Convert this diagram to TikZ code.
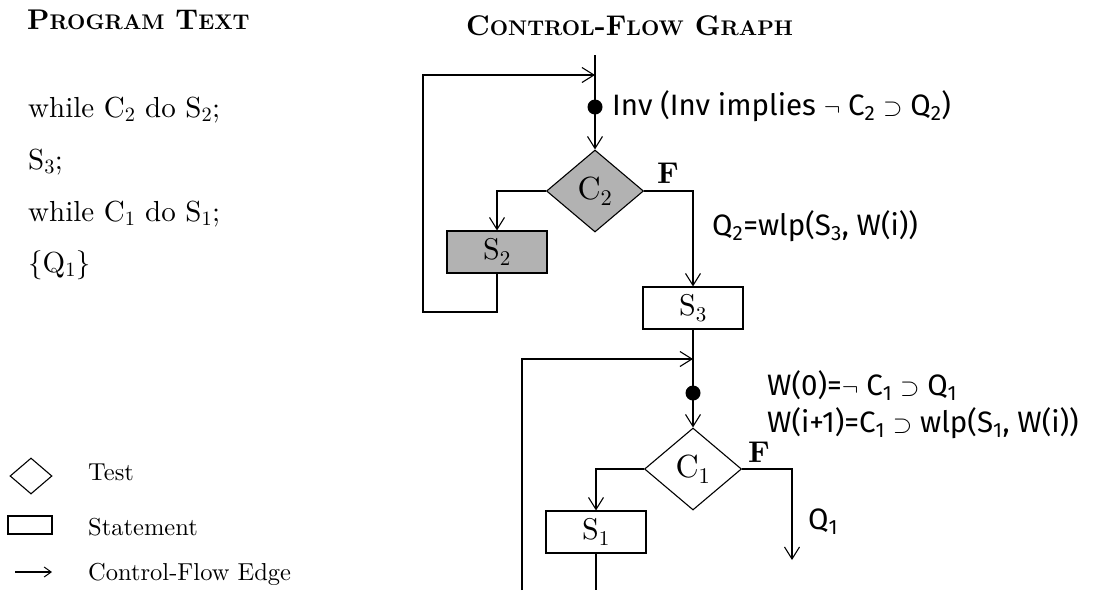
\documentclass[tikz,border=0pt]{standalone}
\usepackage{fontspec}
\setmainfont{lmroman10-regular}[Extension=.otf,BoldFont=lmroman10-bold,ItalicFont=lmroman10-italic]
\setsansfont{Fira Sans}
\usetikzlibrary{shapes.geometric,arrows.meta}
\newcommand\myfsc[1]{{\fontsize{21.2}{23}\selectfont #1}}
\tikzset{
  edge/.style={line width=1.1pt},
  arr/.style={edge,-{Straight Barb[length=12pt,width=15pt,line width=1.1pt]}},
  stmt/.style={draw,line width=1.1pt,minimum width=100pt,minimum height=42pt,inner sep=0pt,font=\fontsize{30}{32}\selectfont},
  test/.style={draw,diamond,line width=1.1pt,minimum width=97pt,minimum height=82pt,inner sep=0pt,font=\fontsize{32}{34}\selectfont},
  shaded/.style={fill=gray!60},
  lbl/.style={font=\sffamily\fontsize{29.5}{32}\selectfont,anchor=base west,inner sep=0pt},
  prog/.style={font=\fontsize{29}{32}\selectfont,anchor=base west,inner sep=0pt},
  legtxt/.style={font=\fontsize{24.5}{27}\selectfont,anchor=base west,inner sep=0pt},
  head/.style={font=\bfseries\fontsize{28.5}{31}\selectfont,anchor=base west,inner sep=0pt},
  flabel/.style={font=\bfseries\fontsize{30}{32}\selectfont,inner sep=0pt},
  dotn/.style={circle,fill,inner sep=0pt,minimum size=15pt},
}
\begin{document}
\begin{tikzpicture}[x=1pt,y=-1pt]
\useasboundingbox (0,0) rectangle (1100,590);
% headings
\node[head] (h1) at (27,29) {P\myfsc{ROGRAM} T\myfsc{EXT}};
\node[head] (h2) at (466,35) {C\myfsc{ONTROL}-F\myfsc{LOW} G\myfsc{RAPH}};
% program text
\node[prog] (p1) at (28,117) {while C\textsubscript{2} do S\textsubscript{2};};
\node[prog] (p2) at (28,169) {S\textsubscript{3};};
\node[prog] (p3) at (28,221) {while C\textsubscript{1} do S\textsubscript{1};};
\node[prog] (p4) at (28,272) {\{Q\textsubscript{1}\}};
% legend
\node[draw,diamond,line width=1.1pt,minimum width=42pt,minimum height=36pt,inner sep=0pt] (ld) at (31,476) {};
\node[legtxt] (lt1) at (88,480) {Test};
\node[draw,line width=1.1pt,minimum width=44pt,minimum height=18pt,inner sep=0pt] (lr) at (30,525) {};
\node[legtxt] (lt2) at (88,535) {Statement};
\coordinate (la1) at (15,572);
\coordinate (la2) at (52,572);
\draw[edge,-{Straight Barb[length=7pt,width=10pt,line width=1pt]}] (la1) -- (la2);
\node[legtxt] (lt3) at (88,580) {Control-Flow Edge};
% first loop
\coordinate (top) at (595,55);
\coordinate (j2) at (595,75);
\node[dotn] (d2) at (595,107) {};
\node[test,shaded] (c2) at (595,191) {C\textsubscript{2}};
\node[stmt,shaded] (s2) at (497,252) {S\textsubscript{2}};
\node[stmt] (s3) at (693,308) {S\textsubscript{3}};
\coordinate (l2) at (423,312);
\draw[edge] (top) -- (d2.center);
\draw[arr] (d2.center) -- (c2.north);
\draw[arr] (c2.west) -| (s2.north);
\draw[arr] (c2.east) -| (s3.north);
\draw[arr] (s2.south) |- (l2) |- (j2);
\node[flabel] (f2) at (668,173) {F};
\node[lbl] (inv) at (612,115) {Inv (Inv implies $\neg$ C\textsubscript{2} $\supset$ Q\textsubscript{2})};
\node[lbl] (q2) at (712,235) {Q\textsubscript{2}=wlp(S\textsubscript{3}, W(i))};
% second loop
\coordinate (j1) at (693,359);
\node[dotn] (d1) at (693,393) {};
\node[test] (c1) at (693,469) {C\textsubscript{1}};
\node[stmt] (s1) at (596,532) {S\textsubscript{1}};
\coordinate (b1) at (522,590);
\coordinate (b2) at (596,590);
\coordinate (q1e) at (792,560);
\draw[edge] (s3.south) -- (d1.center);
\draw[arr] (d1.center) -- (c1.north);
\draw[arr] (c1.west) -| (s1.north);
\draw[arr] (c1.east) -| (q1e);
\draw[edge] (s1.south) -- (b2);
\draw[arr] (b1) |- (j1);
\node[flabel] (f1) at (759,452) {F};
\node[lbl] (w0) at (767,395) {W(0)=$\neg$\ C\textsubscript{1} $\supset$ Q\textsubscript{1}};
\node[lbl] (wi) at (767,432) {W(i+1)=C\textsubscript{1} $\supset$ wlp(S\textsubscript{1}, W(i))};
\node[lbl] (q1) at (808,529) {Q\textsubscript{1}};
\end{tikzpicture}
\end{document}
